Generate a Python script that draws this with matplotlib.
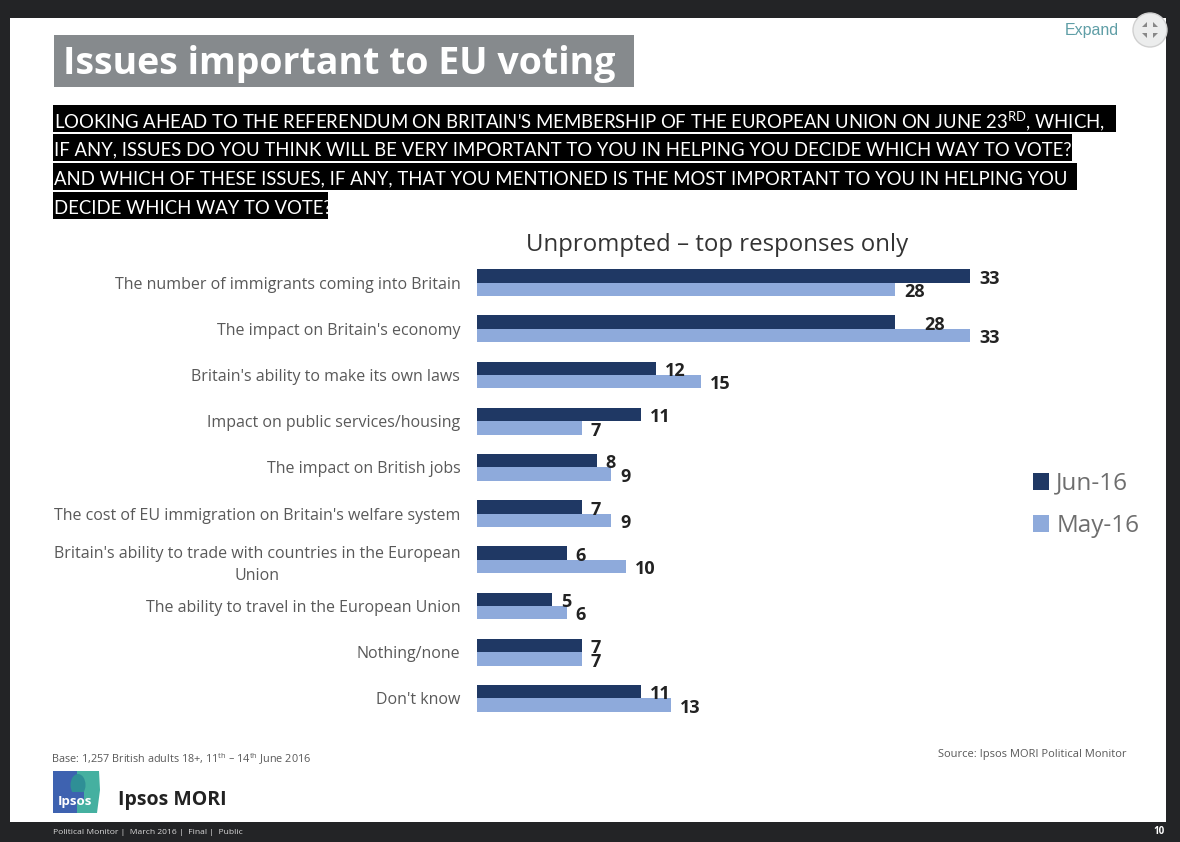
#!/usr/bin/env python3
"""Issues important to EU voting - Ipsos MORI slide, bars drawn from the values below."""
import matplotlib
matplotlib.use("Agg")
import numpy as np
import matplotlib.pyplot as plt
from matplotlib.patches import Rectangle, Circle, Polygon, Ellipse

plt.rcParams["font.family"] = ["Open Sans", "DejaVu Sans"]
plt.rcParams["mathtext.default"] = "regular"

categories = [
    "The number of immigrants coming into Britain",
    "The impact on Britain's economy",
    "Britain's ability to make its own laws",
    "Impact on public services/housing",
    "The impact on British jobs",
    "The cost of EU immigration on Britain's welfare system",
    "Britain's ability to trade with countries in the European\nUnion",
    "The ability to travel in the European Union",
    "Nothing/none",
    "Don't know",
]
jun16 = [33, 28, 12, 11, 8, 7, 6, 5, 7, 11]
may16 = [28, 33, 15, 7, 9, 9, 10, 6, 7, 13]
series_names = ["Jun-16", "May-16"]

question_lines = [
    "LOOKING AHEAD TO THE REFERENDUM ON BRITAIN'S MEMBERSHIP OF THE EUROPEAN UNION ON JUNE 23$^{RD}$, WHICH,",
    "IF ANY, ISSUES DO YOU THINK WILL BE VERY IMPORTANT TO YOU IN HELPING YOU DECIDE WHICH WAY TO VOTE?",
    "AND WHICH OF THESE ISSUES, IF ANY, THAT YOU MENTIONED IS THE MOST IMPORTANT TO YOU IN HELPING YOU",
    "DECIDE WHICH WAY TO VOTE?",
]
question_right = [1116, 1072, 1077, 328]

DARK = "#1f3864"
LIGHT = "#8eaadb"
GREY = "#595959"

fig = plt.figure(figsize=(11.8, 8.42), dpi=100, facecolor="#232426")

# slide furniture, in pixel coordinates
bg = fig.add_axes([0, 0, 1, 1])
bg.set_xlim(0, 1180)
bg.set_ylim(842, 0)
bg.axis("off")
bg.add_patch(Rectangle((10, 18), 1156, 804, fc="white", ec="none"))

bg.add_patch(Rectangle((54, 35), 580, 52, fc="#868a8d", ec="none"))
bg.text(63, 64, "Issues important to EU voting", color="white", fontsize=27,
        fontweight="bold", va="center", ha="left")

for i, (line, right) in enumerate(zip(question_lines, question_right)):
    y = 105 + 29 * i
    bg.add_patch(Rectangle((53, y), right - 53, 27, fc="black", ec="none"))
    bg.text(54, y + 16, line, color="white", fontsize=13.35, va="center", ha="left",
            family=["Lato", "DejaVu Sans"])

bg.text(717, 245, "Unprompted \u2013 top responses only", color="#333333", fontsize=17.3,
        ha="center", va="center")

bg.text(1092, 31, "Expand", color="#5f9ea6", fontsize=11.5, ha="center", va="center",
        family=["Liberation Sans"])
bg.add_patch(Circle((1150, 30), 17, fc="#eceded", ec="#d0d0d0", lw=1))
for sx, sy in [(-1, -1), (1, -1), (-1, 1), (1, 1)]:
    bg.add_patch(Polygon([(1150 + sx * 3, 30 + sy * 3), (1150 + sx * 8, 30 + sy * 3),
                          (1150 + sx * 3, 30 + sy * 8)], fc="#888888", ec="none"))

bg.text(51, 759, "Base: 1,257 British adults 18+, 11$^{th}$ \u2013 14$^{th}$ June 2016",
        color=GREY, fontsize=7.8, ha="left", va="center")
bg.text(1127, 754, "Source: Ipsos MORI Political Monitor", color=GREY, fontsize=8,
        ha="right", va="center")

# logo
bg.add_patch(Rectangle((53, 771), 24, 42, fc="#3e62b0", ec="none"))
bg.add_patch(Polygon([(77, 771), (99, 771), (100, 790), (97, 813), (77, 813)], fc="#45b0a0", ec="none"))
bg.add_patch(Ellipse((78, 785), 15, 22, fc="#2f8f96", ec="none"))
bg.add_patch(Rectangle((70, 792), 14, 8, fc="#3e62b0", ec="none"))
bg.text(75, 802, "Ipsos", color="white", fontsize=9.5, fontweight="bold", ha="center", va="center")
bg.text(118, 800, "Ipsos MORI", color="#222222", fontsize=14, fontweight="bold", ha="left", va="center")

bg.text(53, 832, "Political Monitor |  March 2016 |  Final |  Public", color="#d8d8d8",
        fontsize=6.1, ha="left", va="center")
bg.text(1159, 832, "10", color="white", fontsize=7, fontweight="bold", ha="center", va="center")

# chart
ax = fig.add_axes([477 / 1180, 1 - 721.5 / 842, 523 / 1180, 462 / 842])
ax.patch.set_alpha(0)
y = np.arange(len(categories))
h = 0.29
bars_jun = ax.barh(y - h / 2, jun16, height=h, color=DARK, label=series_names[0])
bars_may = ax.barh(y + h / 2, may16, height=h, color=LIGHT, label=series_names[1])
ax.set_xlim(0, 35)
ax.set_ylim(len(categories) - 0.5, -0.5)
ax.set_xticks([])
ax.set_yticks(y)
ax.set_yticklabels(categories, fontsize=11.5, color=GREY, ma="center", linespacing=1.5)
ax.tick_params(axis="y", length=0, pad=12)
for s in ax.spines.values():
    s.set_visible(False)

for i, v in enumerate(jun16):
    # the 28 sits further out on the slide
    off = 29 if i == 1 else 9
    ax.annotate(str(v), (v, i - h / 2), xytext=(off * 0.72, -2), textcoords="offset points",
                fontsize=13, fontweight="bold", color="#222222", va="center", ha="left")
for i, v in enumerate(may16):
    ax.annotate(str(v), (v, i + h / 2), xytext=(9 * 0.72, -2), textcoords="offset points",
                fontsize=13, fontweight="bold", color="#222222", va="center", ha="left")

fig.legend(handles=[bars_jun, bars_may], labels=series_names, loc="upper left",
           bbox_to_anchor=(1011 / 1180, 1 - 450 / 842), frameon=False, fontsize=17.5,
           labelcolor="#6e6e6e", handlelength=0.66, handleheight=0.66, handletextpad=0.3,
           labelspacing=0.75)

fig.savefig("out.png", dpi=100, facecolor=fig.get_facecolor())
